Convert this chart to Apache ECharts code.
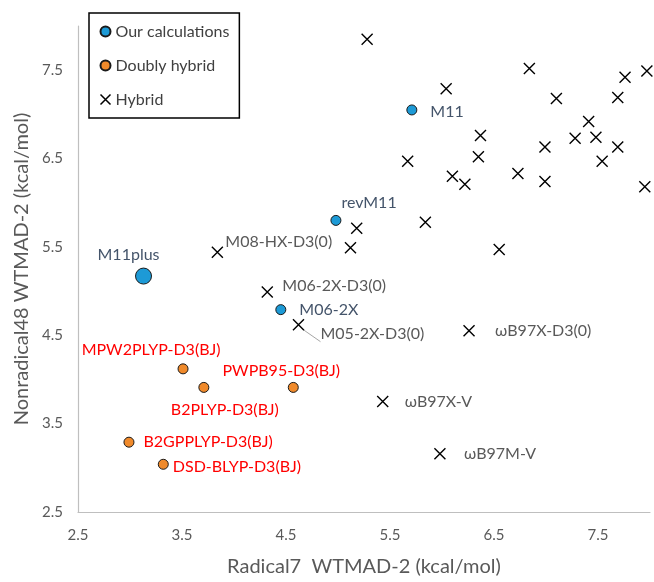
<!DOCTYPE html>
<html>
<head>
<meta charset="utf-8">
<script src="https://cdn.jsdelivr.net/npm/echarts@6/dist/echarts.min.js"></script>
<style>
html,body{margin:0;padding:0;background:#fff;}
#chart{width:654px;height:582px;}
</style>
</head>
<body>
<div id="chart"></div>
<script>
// ---- data ----
var ourNames = ['M11', 'revM11', 'M06-2X', 'M11plus'];
var ourX = [5.71, 4.98, 4.45, 3.13];
var ourY = [7.05, 5.80, 4.79, 5.17];

var dhNames = ['MPW2PLYP-D3(BJ)', 'B2PLYP-D3(BJ)', 'PWPB95-D3(BJ)', 'B2GPPLYP-D3(BJ)', 'DSD-BLYP-D3(BJ)'];
var dhX = [3.51, 3.71, 4.57, 2.99, 3.32];
var dhY = [4.12, 3.91, 3.91, 3.29, 3.04];

var hybNames = ['', '', '', '', '', '', '', '', '', '', '', '', '', '', '', '', '', '', '', '', '', '', '', '', '',
  'M08-HX-D3(0)', 'M06-2X-D3(0)', 'M05-2X-D3(0)', 'ωB97X-D3(0)', 'ωB97X-V', 'ωB97M-V'];
var hybX = [5.28, 6.84, 7.97, 7.76, 6.04, 7.10, 7.69, 7.41, 6.37, 7.28, 7.48, 6.99, 7.69, 5.67, 6.35, 7.54, 6.10, 6.22, 6.73, 6.99, 7.95, 5.18, 5.84, 5.12, 6.55,
  3.84, 4.32, 4.62, 6.26, 5.43, 5.98];
var hybY = [7.85, 7.52, 7.49, 7.42, 7.29, 7.18, 7.19, 6.92, 6.76, 6.73, 6.74, 6.63, 6.63, 6.47, 6.52, 6.47, 6.30, 6.21, 6.33, 6.24, 6.18, 5.71, 5.78, 5.49, 5.47,
  5.44, 4.99, 4.62, 4.55, 3.75, 3.16];

var xTicks = ['2.5', '3.5', '4.5', '5.5', '6.5', '7.5'];
var yTicks = ['2.5', '3.5', '4.5', '5.5', '6.5', '7.5'];

// ---- label layout (styling, keyed by name) ----
var labelCfg = {
  'M11': {position: 'right', offset: [8, 2]},
  'revM11': {position: 'right', offset: [-5, -18]},
  'M06-2X': {position: 'right', offset: [8, 0]},
  'M11plus': {position: 'top', offset: [-15, 0]},
  'MPW2PLYP-D3(BJ)': {position: 'top', offset: [-32, -1]},
  'PWPB95-D3(BJ)': {position: 'top', offset: [-12, 2]},
  'B2PLYP-D3(BJ)': {position: 'bottom', offset: [21, 4]},
  'B2GPPLYP-D3(BJ)': {position: 'right', offset: [4, 0]},
  'DSD-BLYP-D3(BJ)': {position: 'right', offset: [-1, 3]},
  'M08-HX-D3(0)': {position: 'right', offset: [-5, -10]},
  'M06-2X-D3(0)': {position: 'right', offset: [2, -6]},
  'M05-2X-D3(0)': {position: 'right', offset: [9, 9], line: true},
  'ωB97X-D3(0)': {position: 'right', offset: [13, 0]},
  'ωB97X-V': {position: 'right', offset: [9, 0]},
  'ωB97M-V': {position: 'right', offset: [11, 0]}
};
var bigSymbol = {'M11plus': 16};

var FONT = 'Lato, "Open Sans", sans-serif';
var crossPath = 'path://M0,0L10,10M10,0L0,10';

function build(names, xs, ys, color) {
  return names.map(function (n, i) {
    var item = {name: n, value: [xs[i], ys[i]]};
    if (bigSymbol[n]) item.symbolSize = bigSymbol[n];
    if (n && labelCfg[n]) {
      item.label = {
        show: true,
        formatter: n,
        position: labelCfg[n].position,
        offset: labelCfg[n].offset,
        color: color,
        fontSize: 16,
        fontFamily: FONT
      };
      item.labelLine = {show: !!labelCfg[n].line, lineStyle: {color: '#A6A6A6', width: 1}};
    }
    return item;
  });
}

var tickFmt = function (list) {
  return function (v) {
    var s = v.toFixed(1);
    return list.indexOf(s) >= 0 ? s : '';
  };
};

var chart = echarts.init(document.getElementById('chart'), null, {renderer: 'canvas'});
chart.setOption({
  animation: false,
  backgroundColor: '#fff',
  textStyle: {fontFamily: FONT},
  grid: {left: 78, right: 4, top: 26, bottom: 66},
  legend: {
    orient: 'vertical',
    left: 89,
    top: 13,
    backgroundColor: '#fff',
    borderColor: '#000',
    borderWidth: 1.5,
    borderRadius: 0,
    padding: [9, 10, 9, 9],
    itemGap: 15,
    itemWidth: 10,
    itemHeight: 10,
    textStyle: {fontSize: 16, color: '#404040', fontFamily: FONT, lineHeight: 19},
    data: [
      {name: 'Our calculations', icon: 'circle'},
      {name: 'Doubly hybrid', icon: 'circle'},
      {name: 'Hybrid', icon: crossPath, itemStyle: {color: 'none', borderColor: '#000', borderWidth: 1.5}}
    ]
  },
  xAxis: {
    type: 'value',
    min: 2.5, max: 8, interval: 0.5,
    name: 'Radical7  WTMAD-2 (kcal/mol)',
    nameLocation: 'middle',
    nameGap: 45,
    nameTextStyle: {fontSize: 20, color: '#595959', fontFamily: FONT},
    axisLine: {show: true, onZero: false, lineStyle: {color: '#BFBFBF', width: 1.2}},
    axisTick: {show: false},
    splitLine: {show: false},
    axisLabel: {fontSize: 15, color: '#595959', margin: 16, formatter: tickFmt(xTicks), showMaxLabel: false, fontFamily: FONT}
  },
  yAxis: {
    type: 'value',
    min: 2.5, max: 8, interval: 0.5,
    name: 'Nonradical48 WTMAD-2 (kcal/mol)',
    nameLocation: 'middle',
    nameGap: 44,
    nameTextStyle: {fontSize: 20, color: '#595959', fontFamily: FONT},
    axisLine: {show: true, onZero: false, lineStyle: {color: '#BFBFBF', width: 1.2}},
    axisTick: {show: false},
    splitLine: {show: false},
    axisLabel: {fontSize: 15, color: '#595959', margin: 15, formatter: tickFmt(yTicks), showMaxLabel: false, fontFamily: FONT}
  },
  series: [
    {
      name: 'Hybrid',
      type: 'scatter',
      symbol: crossPath,
      symbolSize: 11,
      itemStyle: {color: 'none', borderColor: '#000', borderWidth: 1.4, opacity: 1},
      labelLine: {show: false},
      data: build(hybNames, hybX, hybY, '#595959'),
      z: 2
    },
    {
      name: 'Doubly hybrid',
      type: 'scatter',
      symbol: 'circle',
      symbolSize: 10,
      itemStyle: {color: '#F08A2B', borderColor: '#1a1a1a', borderWidth: 1, opacity: 1},
      data: build(dhNames, dhX, dhY, '#FF0000'),
      z: 3
    },
    {
      name: 'Our calculations',
      type: 'scatter',
      symbol: 'circle',
      symbolSize: 10,
      itemStyle: {color: '#1D9AD6', borderColor: '#1a1a1a', borderWidth: 1, opacity: 1},
      data: build(ourNames, ourX, ourY, '#44546A'),
      z: 4
    }
  ]
});
</script>
</body>
</html>
